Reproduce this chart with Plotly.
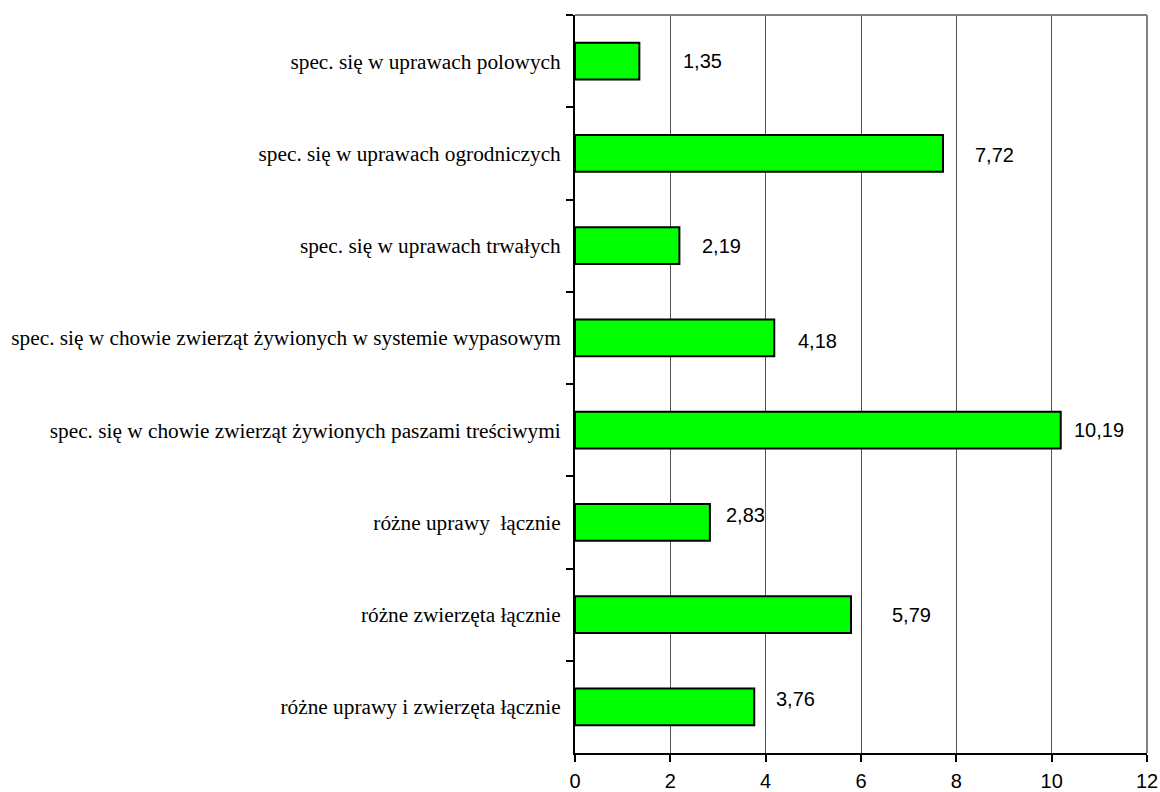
import plotly.graph_objects as go

categories = [
    "spec. się w uprawach polowych",
    "spec. się w uprawach ogrodniczych",
    "spec. się w uprawach trwałych",
    "spec. się w chowie zwierząt żywionych w systemie wypasowym",
    "spec. się w chowie zwierząt żywionych paszami treściwymi",
    "różne uprawy  łącznie",
    "różne zwierzęta łącznie",
    "różne uprawy i zwierzęta łącznie",
]
values = [1.35, 7.72, 2.19, 4.18, 10.19, 2.83, 5.79, 3.76]
value_labels = ["1,35", "7,72", "2,19", "4,18", "10,19", "2,83", "5,79", "3,76"]
x_ticks = [0, 2, 4, 6, 8, 10, 12]

# label placement offsets (pixels) relative to bar end
label_dx = [42, 30, 21, 22, 11, 14, 39, 20]
label_dy = [0, -2, 0, -3, 0, 7, 0, 8]

fig = go.Figure()
fig.add_trace(go.Bar(
    x=values, y=categories, orientation="h",
    width=0.4,
    marker=dict(color="#00FF00", line=dict(color="black", width=2)),
    hoverinfo="skip",
))

for c, v, t, dx, dy in zip(categories, values, value_labels, label_dx, label_dy):
    fig.add_annotation(x=v, y=c, text=t, showarrow=False, xanchor="left",
                       xshift=dx, yshift=dy,
                       font=dict(family="Liberation Sans, Arial", size=20, color="black"))

fig.update_layout(
    width=1160, height=792,
    margin=dict(l=575, r=13, t=15, b=39),
    paper_bgcolor="white", plot_bgcolor="white",
    showlegend=False,
    xaxis=dict(range=[0, 12], tickvals=x_ticks, ticktext=[str(v) for v in x_ticks],
               showgrid=True, gridcolor="#555555", gridwidth=1,
               showline=True, linecolor="black", linewidth=2,
               ticks="outside", ticklen=7, tickwidth=2, tickcolor="black",
               ticklabelstandoff=2, automargin=False,
               tickfont=dict(family="Liberation Sans, Arial", size=20, color="black"),
               zeroline=False, fixedrange=True),
    yaxis=dict(autorange="reversed", type="category",
               showline=True, linecolor="black", linewidth=2,
               ticks="outside", tickson="boundaries", ticklen=7, tickwidth=2, tickcolor="black",
               ticklabelstandoff=8, automargin=False,
               tickfont=dict(family="Liberation Serif, Times New Roman", size=21.3, color="black"),
               showgrid=False, zeroline=False, fixedrange=True),
    shapes=[
        dict(type="line", xref="paper", yref="paper", x0=0, x1=1, y0=1, y1=1,
             line=dict(color="#808080", width=2)),
        dict(type="line", xref="paper", yref="paper", x0=1, x1=1, y0=0, y1=1,
             line=dict(color="#808080", width=2)),
    ],
)

fig.write_html("out.html", config={"displayModeBar": False},
               post_script="document.body.style.margin='0px';document.body.style.overflow='hidden';")
